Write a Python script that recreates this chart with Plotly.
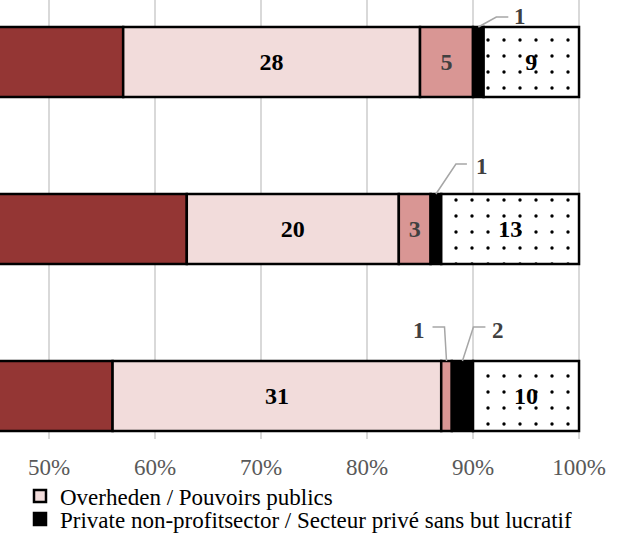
import plotly.graph_objects as go

# Funding shares (%) per row, top row first
rows = [0, 1, 2]
bedrijven = [57, 63, 56]
overheden = [28, 20, 31]
hoger_onderwijs = [5, 3, 1]
private_np = [1, 1, 2]
buitenland = [9, 13, 10]

tick_vals = [50, 60, 70, 80, 90, 100]
tick_text = ["50%", "60%", "70%", "80%", "90%", "100%"]

# ---- geometry / style ----
W, H = 640, 534
M_L, M_R, M_T, M_B = 0, 58, 0, 95
X_RANGE = [45.38, 100.28]
Y_RANGE = [2.257, -0.371]
BAR_W = 0.419
PLOT_W = W - M_L - M_R
PLOT_H = H - M_T - M_B
PX_X = PLOT_W / (X_RANGE[1] - X_RANGE[0])
PX_Y = PLOT_H / abs(Y_RANGE[0] - Y_RANGE[1])

SERIF = "Liberation Serif"
OUTLINE = dict(color="black", width=2.5)
SMALL = 2  # segments this small get a callout label above the bar

series = [
    dict(name="Bedrijven / Entreprises", vals=bedrijven, color="#943634",
         txt="black", legend=None, labels=False),
    dict(name="Overheden / Pouvoirs publics", vals=overheden, color="#F2DCDB",
         txt="black", legend="legend"),
    dict(name="Hoger onderwijs / Enseignement supérieur", vals=hoger_onderwijs,
         color="#D99694", txt="#404040", legend=None),
    dict(name="Private non-profitsector / Secteur privé sans but lucratif",
         vals=private_np, color="black", txt="white", legend="legend2"),
    dict(name="Buitenland / Etranger", vals=buitenland, color="white",
         txt="black", legend=None, dots=True),
]

# callout leader offsets in pixels from the segment centre on the bar top:
# (elbow dx, elbow dy, end dx, label dx, label dy)
callouts = {
    (3, 0): (18, 10, 30, 42, 10),
    (3, 1): (20, 30, 31, 46, 28),
    (2, 2): (-2, 34, -14, -28, 31),
    (3, 2): (11, 34, 23, 36, 31),
}

fig = go.Figure()
cum = [0.0] * len(rows)
centers = {}
for si, s in enumerate(series):
    texts = []
    for ri, v in enumerate(s["vals"]):
        centers[(si, ri)] = cum[ri] + v / 2
        show = s.get("labels", True) and v > SMALL
        texts.append(f"{v}" if show else "")
    marker = dict(color=s["color"], line=OUTLINE)
    if s.get("dots"):
        marker["pattern"] = dict(shape=".", fgcolor="black", bgcolor="white",
                                 size=16, solidity=0.035, fillmode="replace")
    fig.add_trace(go.Bar(
        y=rows, x=s["vals"], base=list(cum), orientation="h", width=BAR_W,
        name=s["name"], marker=marker,
        text=texts, textposition="inside", insidetextanchor="middle",
        textangle=0, constraintext="none",
        insidetextfont=dict(family=SERIF, size=24, color=s["txt"], weight="bold"),
        showlegend=s["legend"] is not None,
        legend=s["legend"] or "legend",
        hoverinfo="skip",
    ))
    cum = [c + v for c, v in zip(cum, s["vals"])]

# callout labels for the narrow segments
shapes = []
annotations = []
for si, s in enumerate(series):
    for ri, v in enumerate(s["vals"]):
        if v > SMALL:
            continue
        ex, ey, endx, lx, ly = callouts[(si, ri)]
        cx = centers[(si, ri)]
        top = rows[ri] - BAR_W / 2

        def pt(dx, dy):
            return cx + dx / PX_X, top - dy / PX_Y

        p0, p1, p2 = pt(0, 0), pt(ex, ey), pt(endx, ey)
        shapes.append(dict(
            type="path", xref="x", yref="y",
            path=f"M{p0[0]},{p0[1]} L{p1[0]},{p1[1]} L{p2[0]},{p2[1]}",
            line=dict(color="#A6A6A6", width=1.5), layer="above",
        ))
        annotations.append(dict(
            x=cx, y=top, xref="x", yref="y", text=f"{v}", showarrow=False,
            xshift=lx, yshift=ly, xanchor="center", yanchor="middle",
            font=dict(family=SERIF, size=23, color="#404040", weight="bold"),
        ))

legend_style = dict(
    font=dict(family=SERIF, size=23, color="black"),
    bgcolor="rgba(0,0,0,0)", borderwidth=0,
    xref="container", yref="container", xanchor="left", yanchor="middle",
    itemwidth=30, itemclick=False, itemdoubleclick=False,
)

fig.update_layout(
    width=W, height=H,
    margin=dict(l=M_L, r=M_R, t=M_T, b=M_B, autoexpand=False),
    barmode="overlay",
    plot_bgcolor="white", paper_bgcolor="white",
    showlegend=True,
    xaxis=dict(
        range=X_RANGE, tickvals=tick_vals, ticktext=tick_text,
        showgrid=True, gridcolor="#D9D9D9", gridwidth=1.5,
        zeroline=False, showline=False, ticks="",
        ticklabelstandoff=12,
        tickfont=dict(family=SERIF, size=23, color="#595959"),
    ),
    yaxis=dict(
        range=Y_RANGE, showticklabels=False, showgrid=False,
        zeroline=False, showline=False, ticks="",
    ),
    legend=dict(x=20 / W, y=1 - 496 / H, **legend_style),
    legend2=dict(x=20 / W, y=1 - 519 / H, **legend_style),
    shapes=shapes,
    annotations=annotations,
)

fig.write_html("out.html")
